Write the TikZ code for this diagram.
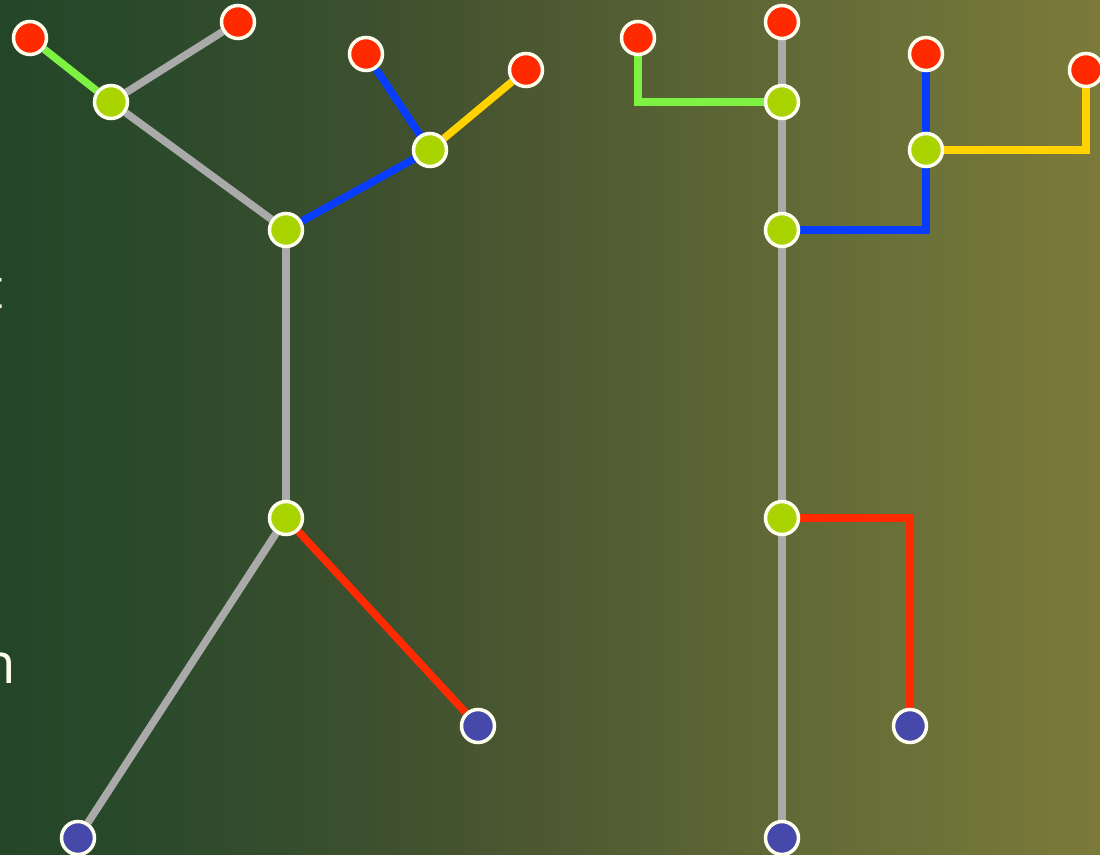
\documentclass[tikz,border=0pt]{standalone}
\usepackage{fontspec}
\setmainfont{Open Sans}
\usepackage{tikz}
\usetikzlibrary{backgrounds}
\definecolor{bgA}{RGB}{36,70,40}
\definecolor{bgB}{RGB}{44,74,44}
\definecolor{bgC}{RGB}{62,80,46}
\definecolor{bgD}{RGB}{80,90,50}
\definecolor{bgE}{RGB}{96,104,54}
\definecolor{bgF}{RGB}{108,114,56}
\definecolor{bgG}{RGB}{124,122,58}
\definecolor{redtip}{RGB}{255,42,0}
\definecolor{knotgreen}{RGB}{170,212,0}
\definecolor{sinkblue}{RGB}{70,72,170}
\definecolor{rim}{RGB}{255,255,240}
\definecolor{linkgray}{RGB}{170,170,170}
\definecolor{lime}{RGB}{126,242,66}
\definecolor{deepblue}{RGB}{8,60,255}
\definecolor{gold}{RGB}{255,210,0}
\pgfdeclarehorizontalshading{bgfade}{100bp}{color(0bp)=(bgA); color(25bp)=(bgA); color(32.5bp)=(bgB); color(42.5bp)=(bgC); color(51bp)=(bgD); color(60bp)=(bgE); color(67.5bp)=(bgF); color(75bp)=(bgG); color(100bp)=(bgG)}
\tikzset{
  dot/.style={circle,draw=rim,line width=2pt,minimum size=0.66cm,inner sep=0pt},
  leaf/.style={dot,fill=redtip},
  knot/.style={dot,fill=knotgreen},
  sink/.style={dot,fill=sinkblue},
  link/.style={line width=4.3pt,draw=linkgray},
  lbl/.style={text=rim,font=\fontsize{32}{38}\selectfont,inner sep=0pt,anchor=base east},
}

\begin{document}
\begin{tikzpicture}[x=0.02cm,y=-0.02cm]
  \useasboundingbox (0,0) rectangle (1100,855);
  \begin{scope}[on background layer]
    \shade[shading=bgfade] (0,0) rectangle (1100,855);
  \end{scope}
  \clip (0,0) rectangle (1100,855);
  \node[lbl] (tt) at (4,308) {t};
  \node[lbl] (nn) at (16,683) {n};
  % left tree
  \node[leaf] (a1) at (30,38) {};
  \node[leaf] (a2) at (238,22) {};
  \node[knot] (b1) at (111,102) {};
  \node[leaf] (c1) at (366,54) {};
  \node[leaf] (c2) at (526,70) {};
  \node[knot] (b2) at (430,150) {};
  \node[knot] (r1) at (286,230) {};
  \node[knot] (r2) at (286,518) {};
  \node[sink] (s1) at (478,726) {};
  \node[sink] (s2) at (78,838) {};
  % right tree
  \node[leaf] (ta) at (782,22) {};
  \node[knot] (tb) at (782,102) {};
  \node[knot] (tc) at (782,230) {};
  \node[knot] (td) at (782,518) {};
  \node[sink] (te) at (782,838) {};
  \node[leaf] (ua) at (638,38) {};
  \node[leaf] (ub) at (926,54) {};
  \node[knot] (uc) at (926,150) {};
  \node[leaf] (ud) at (1086,70) {};
  \node[sink] (ue) at (910,726) {};
  \begin{scope}[on background layer]
    \draw[link,draw=lime] (a1) -- (b1); \draw[link] (a2) -- (b1);
    \draw[link] (b1) -- (r1); \draw[link,draw=deepblue] (c1) -- (b2);
    \draw[link,draw=gold] (c2) -- (b2); \draw[link,draw=deepblue] (b2) -- (r1);
    \draw[link] (r1) -- (r2); \draw[link,draw=redtip] (r2) -- (s1);
    \draw[link] (r2) -- (s2);
    \draw[link] (ta) -- (te);
    \draw[link,draw=lime] (ua) |- (tb);
    \draw[link,draw=deepblue] (ub) -- (uc); \draw[link,draw=deepblue] (uc) |- (tc);
    \draw[link,draw=gold] (ud) |- (uc);
    \draw[link,draw=redtip] (td) -| (ue);
  \end{scope}
\end{tikzpicture}
\end{document}
